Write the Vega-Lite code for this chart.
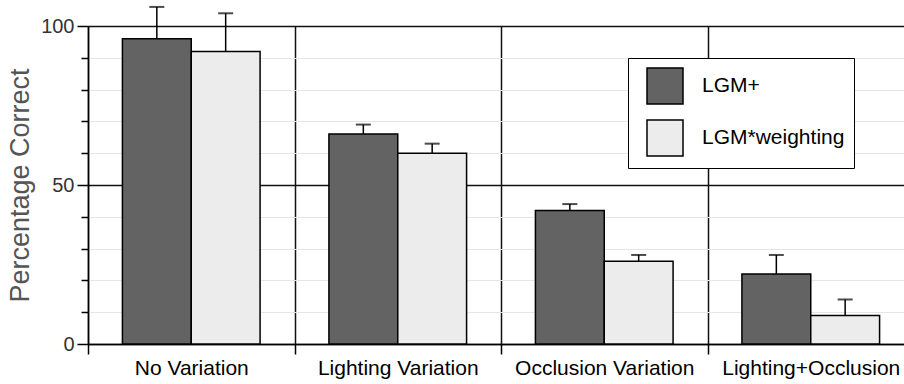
{
  "$schema": "https://vega.github.io/schema/vega-lite/v6.json",
  "autosize": {"type": "none"},
  "width": 816,
  "height": 318,
  "padding": {"left": 88, "top": 26, "right": 0, "bottom": 40},
  "background": "white",
  "config": {
    "view": {"stroke": null},
    "font": "Liberation Sans"
  },
  "data": {
    "values": [
      {"cat": "No Variation", "method": "LGM+", "value": 96, "upper": 106},
      {"cat": "No Variation", "method": "LGM*weighting", "value": 92, "upper": 104},
      {"cat": "Lighting Variation", "method": "LGM+", "value": 66, "upper": 69},
      {"cat": "Lighting Variation", "method": "LGM*weighting", "value": 60, "upper": 63},
      {"cat": "Occlusion Variation", "method": "LGM+", "value": 42, "upper": 44},
      {"cat": "Occlusion Variation", "method": "LGM*weighting", "value": 26, "upper": 28},
      {"cat": "Lighting+Occlusion", "method": "LGM+", "value": 22, "upper": 28},
      {"cat": "Lighting+Occlusion", "method": "LGM*weighting", "value": 9, "upper": 14}
    ]
  },
  "encoding": {
    "x": {
      "field": "cat",
      "type": "nominal",
      "sort": ["No Variation", "Lighting Variation", "Occlusion Variation", "Lighting+Occlusion"],
      "scale": {"range": [0, 826], "paddingInner": 0, "paddingOuter": 0},
      "axis": {
        "title": null,
        "tickBand": "extent",
        "tickSize": 10,
        "tickColor": "black",
        "tickWidth": 1.5,
        "grid": true,
        "gridColor": "#111",
        "gridWidth": 1.5,
        "domainColor": "black",
        "domainWidth": 1.5,
        "labelAngle": 0,
        "labelFontSize": 21,
        "labelColor": "black",
        "labelPadding": 3
      }
    },
    "xOffset": {
      "field": "method",
      "type": "nominal",
      "sort": ["LGM+", "LGM*weighting"],
      "scale": {"paddingInner": 0, "paddingOuter": 0.5}
    },
    "y": {
      "field": "value",
      "type": "quantitative",
      "stack": null,
      "scale": {"domain": [0, 100], "nice": false},
      "axis": {
        "title": "Percentage Correct",
        "titleFontSize": 27,
        "titleFontWeight": "normal",
        "titleColor": "#555",
        "titlePadding": 6,
        "values": [0, 10, 20, 30, 40, 50, 60, 70, 80, 90, 100],
        "labelExpr": "datum.value % 50 === 0 ? datum.label : ''",
        "labelFontSize": 20,
        "labelColor": "#333",
        "labelPadding": 3,
        "tickColor": "black",
        "tickWidth": 1.5,
        "tickSize": {"expr": "datum.value % 50 === 0 ? 11 : 7"},
        "domainColor": "black",
        "domainWidth": 1.5,
        "grid": true,
        "gridColor": {"expr": "datum.value % 50 === 0 ? '#111' : '#e6e6e6'"},
        "gridWidth": {"expr": "datum.value % 50 === 0 ? 1.5 : 1"}
      }
    }
  },
  "layer": [
    {
      "mark": {"type": "bar", "stroke": "black", "strokeWidth": 1.5},
      "encoding": {
        "fill": {
          "field": "method",
          "type": "nominal",
          "sort": ["LGM+", "LGM*weighting"],
          "scale": {"domain": ["LGM+", "LGM*weighting"], "range": ["#636363", "#ececec"]},
          "legend": {
            "title": null,
            "orient": "none",
            "legendX": 540,
            "legendY": 32,
            "fillColor": "white",
            "strokeColor": "black",
            "padding": 9,
            "symbolType": "square",
            "symbolSize": 1296,
            "symbolStrokeColor": "black",
            "symbolStrokeWidth": 1.5,
            "symbolOffset": 9,
            "labelOffset": 18,
            "labelFontSize": 21,
            "labelColor": "black",
            "rowPadding": 10,
            "labelLimit": 300
          }
        }
      }
    },
    {
      "mark": {"type": "rule", "color": "black", "strokeWidth": 1.5},
      "encoding": {
        "y2": {"field": "upper"}
      }
    },
    {
      "mark": {"type": "tick", "color": "black", "size": 15, "thickness": 2},
      "encoding": {
        "y": {
          "field": "upper",
          "type": "quantitative",
          "axis": {
            "title": "Percentage Correct",
            "titleFontSize": 27,
            "titleFontWeight": "normal",
            "titleColor": "#555",
            "titlePadding": 6,
            "values": [0, 10, 20, 30, 40, 50, 60, 70, 80, 90, 100],
            "labelExpr": "datum.value % 50 === 0 ? datum.label : ''",
            "labelFontSize": 20,
            "labelColor": "#333",
            "labelPadding": 3,
            "tickColor": "black",
            "tickWidth": 1.5,
            "tickSize": {"expr": "datum.value % 50 === 0 ? 11 : 7"},
            "domainColor": "black",
            "domainWidth": 1.5,
            "grid": true,
            "gridColor": {"expr": "datum.value % 50 === 0 ? '#111' : '#e6e6e6'"},
            "gridWidth": {"expr": "datum.value % 50 === 0 ? 1.5 : 1"}
          }
        }
      }
    }
  ]
}
